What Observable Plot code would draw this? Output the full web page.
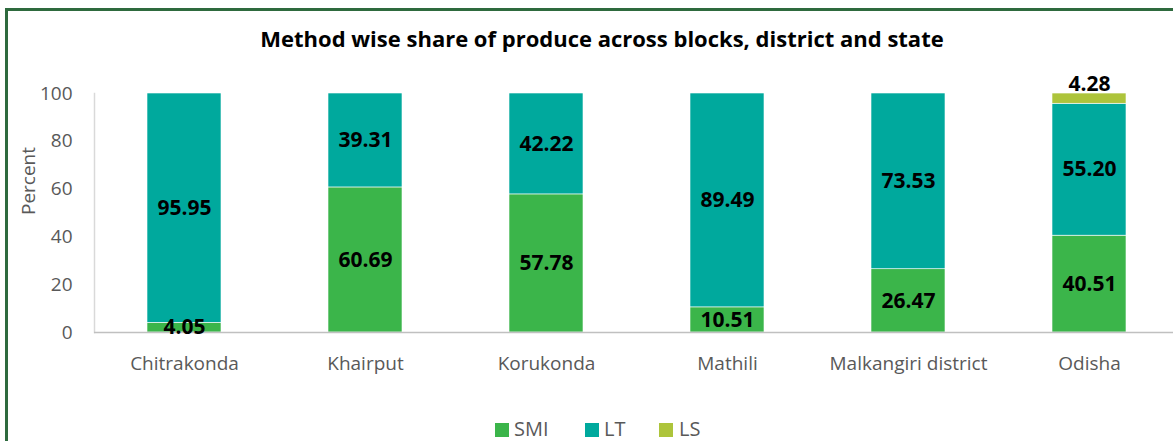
<!DOCTYPE html>
<html>
<head>
<meta charset="utf-8">
<script src="https://cdn.jsdelivr.net/npm/d3@7"></script>
<script src="https://cdn.jsdelivr.net/npm/@observablehq/plot@0.6"></script>
<style>
  html, body { margin: 0; padding: 0; background: #fff; }
  #wrap { position: relative; width: 1173px; height: 441px; overflow: hidden; font-family: "Open Sans", sans-serif; }
  #frame { position: absolute; left: 5px; top: 8px; width: 1300px; height: 600px; border-left: 3px solid #2e6a3e; border-top: 3px solid #2e6a3e; }
  #title { position: absolute; top: 23px; left: 0; width: 1204px; text-align: center; font-weight: bold; font-size: 22px; color: #000; white-space: nowrap; }
  #ylab { position: absolute; left: 28px; top: 181px; transform: translate(-50%, -50%) rotate(-90deg); font-size: 19px; color: #595959; white-space: nowrap; }
  #chart { position: absolute; left: 0; top: 60px; }
  .sw { position: absolute; top: 423px; width: 14px; height: 14px; }
  .lt { position: absolute; top: 419px; font-size: 20px; line-height: 20px; color: #595959; white-space: nowrap; }
</style>
</head>
<body>
<div id="wrap">
  <div id="frame"></div>
  <div id="title">Method wise share of produce across blocks, district and state</div>
  <div id="ylab">Percent</div>
  <div id="chart"></div>
</div>
<script>
const categories = ["Chitrakonda", "Khairput", "Korukonda", "Mathili", "Malkangiri district", "Odisha"];
const seriesNames = ["SMI", "LT", "LS"];
const smi = [4.05, 60.69, 57.78, 10.51, 26.47, 40.51];
const lt  = [95.95, 39.31, 42.22, 89.49, 73.53, 55.20];
const ls  = [0, 0, 0, 0, 0, 4.28];
const yTicks = [0, 20, 40, 60, 80, 100];
const colors = ["#3bb54a", "#00a99d", "#adc43b"];

const seriesVals = [smi, lt, ls];
const rows = [];
categories.forEach((c, i) => {
  let base = 0;
  seriesNames.forEach((s, k) => {
    const v = seriesVals[k][i];
    rows.push({cat: c, series: s, value: v, y1: base, y2: base + v, mid: base + v / 2});
    base += v;
  });
});
const inside = rows.filter(r => r.value > 0 && r.series !== "LS");
const above = rows.filter(r => r.value > 0 && r.series === "LS");

const chart = Plot.plot({
  width: 1173,
  height: 320,
  marginLeft: 94,
  marginRight: 0,
  marginTop: 33,
  marginBottom: 48,
  style: { fontFamily: "'Open Sans', sans-serif", background: "transparent", overflow: "hidden" },
  x: { domain: categories, range: [94, 1180], paddingInner: 0.59, paddingOuter: 0.295, label: null },
  y: { domain: [0, 100], ticks: yTicks, label: null },
  color: { domain: seriesNames, range: colors },
  marks: [
    Plot.barY(rows.filter(r => r.value > 0), { x: "cat", y1: "y1", y2: "y2", fill: "series", stroke: "white", strokeWidth: 0.6 }),
    Plot.frame({ anchor: "left", stroke: "#d9d9d9", strokeWidth: 1.5 }),
    Plot.ruleY([0], { stroke: "#c0c0c0", strokeWidth: 1.5 }),
    Plot.axisX({ tickSize: 0, tickPadding: 24, fontSize: 19, fill: "#595959", stroke: null }),
    Plot.axisY({ ticks: yTicks, tickSize: 0, tickPadding: 22, fontSize: 19, fill: "#595959" }),
    Plot.text(inside, { x: "cat", y: "mid", text: d => d.value.toFixed(2), fontSize: 21, fontWeight: "bold", fill: "#000" }),
    Plot.text(above, { x: "cat", y: "y2", text: d => d.value.toFixed(2), fontSize: 21, fontWeight: "bold", fill: "#000", dy: -9 })
  ]
});
document.getElementById("chart").appendChild(chart);

const wrap = document.getElementById("wrap");
const swX = [495, 585, 659];
const txX = [514, 604, 679];
seriesNames.forEach((s, k) => {
  const sw = document.createElement("div");
  sw.className = "sw";
  sw.style.left = swX[k] + "px";
  sw.style.background = colors[k];
  wrap.appendChild(sw);
  const t = document.createElement("div");
  t.className = "lt";
  t.style.left = txX[k] + "px";
  t.textContent = s;
  wrap.appendChild(t);
});
</script>
</body>
</html>
